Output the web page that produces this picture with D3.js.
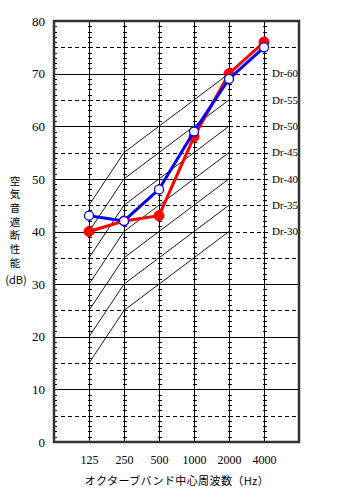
<!DOCTYPE html>
<html>
<head>
<meta charset="utf-8">
<script src="https://cdn.jsdelivr.net/npm/d3@7"></script>
<style>
  body { margin: 0; background: #fff; }
  svg { display: block; }
</style>
</head>
<body>
<div id="chart"></div>
<script>
'use strict';

// Data
const freqs = ['125', '250', '500', '1000', '2000', '4000'];
const redValues = [40, 42, 43, 58, 70, 76];
const blueValues = [43, 42, 48, 59, 69, 75];
const drRatings = [30, 35, 40, 45, 50, 55, 60];
// Dr curve offsets (dB) at 125..2000 Hz relative to the rating
const drOffsets = [-15, -5, 0, 5, 10];
const yTicks = [0, 10, 20, 30, 40, 50, 60, 70, 80];
const yLabelChars = ['空', '気', '音', '遮', '断', '性', '能'];

const W = 353, H = 498;
const margin = { top: 21, right: 54, bottom: 56, left: 54 };
const x0 = margin.left, x1 = W - margin.right;
const y0 = margin.top, y1 = H - margin.bottom;

const svg = d3.select('#chart')
  .append('svg')
  .attr('width', W)
  .attr('height', H);

const xScale = d3.scalePoint().domain(freqs).range([x0, x1]).padding(1);
const yScale = d3.scaleLinear().domain([0, 80]).range([y1, y0]);

const grid = svg.append('g').attr('shape-rendering', 'crispEdges');

// Dashed lines every 5 dB
grid.selectAll('.dash')
  .data(d3.range(5, 80, 5))
  .join('line')
  .attr('x1', x0).attr('x2', x1)
  .attr('y1', d => Math.round(yScale(d)) + 0.5)
  .attr('y2', d => Math.round(yScale(d)) + 0.5)
  .attr('stroke', '#000')
  .attr('stroke-dasharray', '4,3');

// Solid lines every 10 dB (stop at 2000 Hz above 30 dB)
grid.selectAll('.solid')
  .data(d3.range(10, 80, 10))
  .join('line')
  .attr('x1', x0)
  .attr('x2', d => d >= 40 ? xScale('2000') : x1)
  .attr('y1', d => Math.round(yScale(d)) + 0.5)
  .attr('y2', d => Math.round(yScale(d)) + 0.5)
  .attr('stroke', '#000');

// vertical lines at each band
grid.selectAll('.vline')
  .data(freqs)
  .join('line')
  .attr('x1', d => Math.round(xScale(d)) + 0.5)
  .attr('x2', d => Math.round(xScale(d)) + 0.5)
  .attr('y1', y0).attr('y2', y1)
  .attr('stroke', '#000');

// minor ticks every 1 dB on the verticals and the left axis
const minor = d3.range(1, 80);
freqs.forEach(f => {
  const cx = Math.round(xScale(f)) + 0.5;
  grid.append('g').selectAll('line')
    .data(minor)
    .join('line')
    .attr('x1', cx - 2).attr('x2', cx + 2)
    .attr('y1', d => Math.round(yScale(d)) + 0.5)
    .attr('y2', d => Math.round(yScale(d)) + 0.5)
    .attr('stroke', '#000');
});
grid.append('g').selectAll('line')
  .data(minor)
  .join('line')
  .attr('x1', x0).attr('x2', x0 + 3)
  .attr('y1', d => Math.round(yScale(d)) + 0.5)
  .attr('y2', d => Math.round(yScale(d)) + 0.5)
  .attr('stroke', '#000');

// Dr curves
const drLine = d3.line()
  .x((d, i) => xScale(freqs[i]))
  .y(d => yScale(d));

svg.append('g').selectAll('path')
  .data(drRatings)
  .join('path')
  .attr('d', r => drLine(drOffsets.map(o => r + o)))
  .attr('fill', 'none')
  .attr('stroke', '#000')
  .attr('stroke-width', 0.9);

// Dr labels, with a white patch under each so the dashes stop
const drLab = svg.append('g').selectAll('g')
  .data(drRatings)
  .join('g')
  .attr('transform', r => `translate(${x1 - 28},${yScale(r + 10)})`);

drLab.append('rect')
  .attr('x', 0).attr('y', -6)
  .attr('width', 26).attr('height', 12)
  .attr('fill', '#fff');

drLab.append('text')
  .attr('x', 1)
  .attr('dy', '0.35em')
  .attr('font-family', 'Liberation Serif, serif')
  .attr('font-size', 11)
  .text(r => 'Dr-' + r);

// frame
svg.append('rect')
  .attr('x', x0).attr('y', y0)
  .attr('width', x1 - x0).attr('height', y1 - y0)
  .attr('fill', 'none')
  .attr('stroke', '#333')
  .attr('stroke-width', 2.5);

// axes
const yAxis = g => g
  .attr('transform', `translate(${x0},0)`)
  .call(d3.axisLeft(yScale).tickValues(yTicks).tickSize(0).tickPadding(9))
  .call(g => g.select('.domain').remove())
  .call(g => g.selectAll('text')
    .attr('font-family', 'Liberation Serif, serif')
    .attr('font-size', 13)
    .attr('fill', '#000'));

const xAxis = g => g
  .attr('transform', `translate(0,${y1})`)
  .call(d3.axisBottom(xScale).tickSize(0).tickPadding(13))
  .call(g => g.select('.domain').remove())
  .call(g => g.selectAll('text')
    .attr('font-family', 'Liberation Serif, serif')
    .attr('font-size', 12)
    .attr('fill', '#000'));

svg.append('g').call(yAxis);
svg.append('g').call(xAxis);

// series
const seriesLine = d3.line()
  .x((d, i) => xScale(freqs[i]))
  .y(d => yScale(d));

function drawSeries(values, color, filled) {
  const g = svg.append('g');
  g.append('path')
    .attr('d', seriesLine(values))
    .attr('fill', 'none')
    .attr('stroke', color)
    .attr('stroke-width', 3);
  g.selectAll('circle')
    .data(values)
    .join('circle')
    .attr('cx', (d, i) => xScale(freqs[i]))
    .attr('cy', d => yScale(d))
    .attr('r', filled ? 5 : 4.5)
    .attr('fill', filled ? color : '#fff')
    .attr('stroke', color)
    .attr('stroke-width', filled ? 1 : 1.3);
}
drawSeries(redValues, '#ff0000', true);
drawSeries(blueValues, '#0000ff', false);

// axis titles
svg.append('g').selectAll('text')
  .data(yLabelChars)
  .join('text')
  .attr('x', 15)
  .attr('y', (d, i) => 181 + i * 13.7)
  .attr('dy', '0.35em')
  .attr('text-anchor', 'middle')
  .attr('font-family', 'Noto Sans CJK JP, sans-serif')
  .attr('font-size', 10.5)
  .text(d => d);

svg.append('text')
  .attr('x', 16)
  .attr('y', 280)
  .attr('dy', '0.35em')
  .attr('text-anchor', 'middle')
  .attr('font-family', 'Noto Sans CJK JP, sans-serif')
  .attr('font-size', 11)
  .text('(dB)');

svg.append('text')
  .attr('x', 177)
  .attr('y', 481)
  .attr('dy', '0.35em')
  .attr('text-anchor', 'middle')
  .attr('font-family', 'Noto Sans CJK JP, sans-serif')
  .attr('font-size', 11)
  .attr('letter-spacing', 0.4)
  .text('オクターブバンド中心周波数（Hz）');
</script>
</body>
</html>
